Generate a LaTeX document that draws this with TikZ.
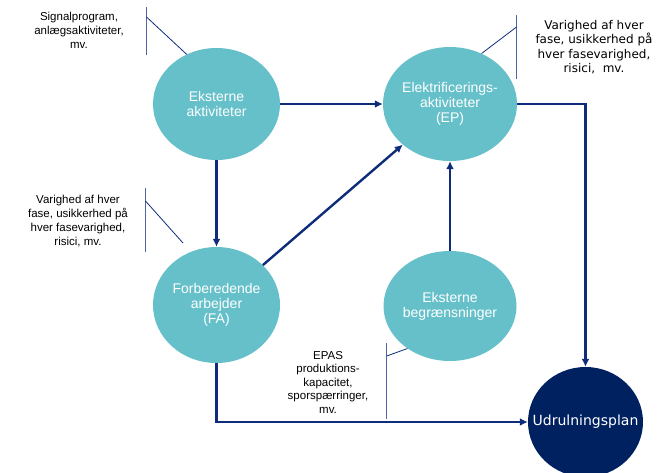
\documentclass[tikz,border=0pt]{standalone}
\usepackage{fontspec}
\setmainfont{Liberation Sans}
\newfontfamily\dejavu{DejaVu Sans}
\usetikzlibrary{shapes,arrows,arrows.meta}
\definecolor{fasefarve}{RGB}{101,192,202}
\definecolor{planfarve}{RGB}{0,33,96}
\definecolor{pilfarve}{RGB}{14,44,122}
\definecolor{bjaelkefarve}{RGB}{80,100,165}

\begin{document}
\begin{tikzpicture}[x=1pt,y=-1pt]
\tikzstyle{fase}=[ellipse,fill=fasefarve,inner sep=0pt]
\tikzstyle{fasetekst}=[text=white,align=center,font=\fontsize{14}{15}\selectfont]
\tikzstyle{pil}=[draw=pilfarve,line width=2.4pt,-{Latex[length=8pt,width=8pt]}]
\tikzstyle{note}=[align=center,font=\fontsize{11.5}{14}\selectfont]
\tikzstyle{bjaelke}=[draw=bjaelkefarve,line width=1pt]
\tikzstyle{streg}=[draw=pilfarve,line width=0.8pt]
\useasboundingbox (0,0) rectangle (668,472);

% faser
\node [fase,minimum width=127pt,minimum height=112pt,
  label={[fasetekst]center:Eksterne\\aktiviteter}] (eks) at (216.5,104) {};
\node [fase,minimum width=134pt,minimum height=114pt,
  label={[fasetekst]center:Elektrificerings-\\aktiviteter\\(EP)}] (ep) at (450,104) {};
\node [fase,minimum width=127pt,minimum height=116pt,
  label={[fasetekst]center:Forberedende\\arbejder\\(FA)}] (fa) at (216.5,305) {};
\node [fase,minimum width=133pt,minimum height=110pt,
  label={[fasetekst]center:Eksterne\\begrænsninger}] (beg) at (450,306) {};
\node [fase,fill=planfarve,minimum width=115pt,minimum height=110pt,
  label={[text=white,font=\dejavu\fontsize{14}{16}\selectfont]center:Udrulningsplan}] (ud) at (585.5,422) {};

% pile
\draw [pil] (eks) -- (ep);
\draw [pil] (eks) -- (fa);
\draw [pil] (fa) -- (ep);
\draw [pil] (beg) -- (ep);
\draw [pil] (ep.east) -| (ud.north);
\draw [pil] (fa.south) |- (ud.west);

% noter
\node [note] (n1) at (79,30) {Signalprogram,\\anlægsaktiviteter,\\mv.};
\coordinate (b1a) at (146.5,7);
\coordinate (b1b) at (146.5,55);
\coordinate (k1) at (146.5,17);
\draw [bjaelke] (b1a) -- (b1b);
\draw [streg] (k1) -- (eks.121);

\node [note,font=\dejavu\fontsize{12}{14.4}\selectfont] (n2) at (594,47) {Varighed af hver\\fase, usikkerhed på\\hver fasevarighed,\\risici,\ \ mv.};
\coordinate (b2a) at (516.5,15);
\coordinate (b2b) at (516.5,79);
\coordinate (k2) at (516.5,27);
\draw [bjaelke] (b2a) -- (b2b);
\draw [streg] (k2) -- (ep.58);

\node [note] (n3) at (78,221) {Varighed af hver\\fase, usikkerhed på\\hver fasevarighed,\\risici, mv.};
\coordinate (b3a) at (145.5,188);
\coordinate (b3b) at (145.5,252);
\coordinate (k3) at (145.5,201);
\coordinate (e3) at (183,243);
\draw [bjaelke] (b3a) -- (b3b);
\draw [streg] (k3) -- (e3);

\node [note,font=\fontsize{11.5}{13.5}\selectfont] (n4) at (328,382) {EPAS\\produktions-\\kapacitet,\\sporspærringer,\\mv.};
\coordinate (b4a) at (386.7,343);
\coordinate (b4b) at (386.7,419);
\coordinate (k4) at (386.7,356);
\draw [bjaelke] (b4a) -- (b4b);
\draw [streg] (k4) -- (beg.225);
\end{tikzpicture}
\end{document}
